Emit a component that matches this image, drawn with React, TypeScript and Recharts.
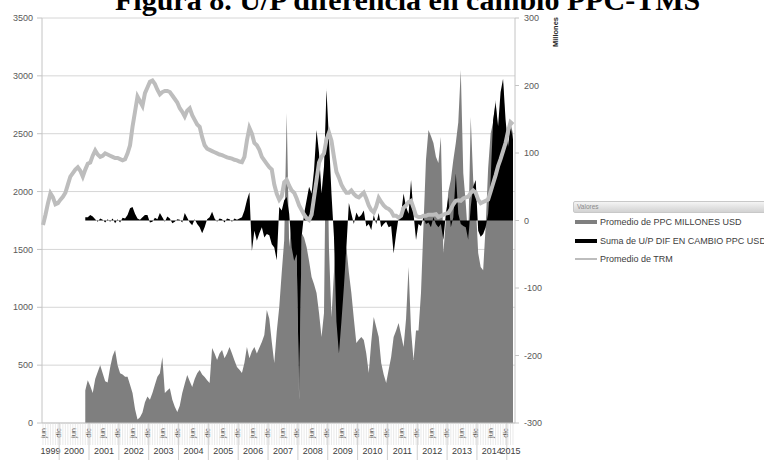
import React from 'react'
import { ComposedChart, Area, Line, XAxis, YAxis, CartesianGrid } from 'recharts'

// monthly series, jun 1999 .. mar 2015
const MONTH_NAMES = ['ene', 'feb', 'mar', 'abr', 'may', 'jun', 'jul', 'ago', 'sep', 'oct', 'nov', 'dic']
const FIRST = { year: 1999, month: 5 }
const LAST = { year: 2015, month: 2 }
const SHOWN_MONTHS = ['jun', 'dic']

// Promedio de TRM (eje izquierdo)
const TRM = [
  1711, 1800, 1900, 1985, 1950, 1890, 1900,
  1930, 1955, 1990, 2060, 2130, 2160, 2190, 2210, 2180, 2130, 2190, 2240,
  2250, 2310, 2355, 2320, 2300, 2310, 2330, 2320, 2310, 2300, 2290, 2290,
  2280, 2270, 2280, 2330, 2400, 2560, 2690, 2820, 2780, 2740, 2850, 2900,
  2950, 2960, 2930, 2880, 2840, 2860, 2870, 2870, 2860, 2830, 2800, 2770,
  2720, 2690, 2650, 2700, 2720, 2660, 2620, 2580, 2560, 2470, 2400, 2370,
  2360, 2350, 2340, 2330, 2320, 2315, 2305, 2295, 2290, 2285, 2275, 2270,
  2260, 2255, 2300, 2440, 2550, 2500, 2420, 2400, 2360, 2300, 2270, 2240,
  2210, 2190, 2060, 1980, 1930, 1960, 2080, 2100, 2050, 2010, 1990, 1940,
  1880, 1840, 1800, 1770, 1755, 1800, 1950, 2100, 2250, 2300, 2330, 2450,
  2510, 2440, 2300, 2170, 2120, 2060, 2020, 1990, 1990, 2010, 1980, 1960,
  1950, 1970, 1990, 1940, 1880, 1840, 1820, 1870, 1945, 1910, 1880, 1860,
  1850, 1830, 1790, 1790, 1775, 1790, 1860, 1880, 1910, 1920, 1860, 1790,
  1780, 1780, 1790, 1790, 1800, 1800, 1800, 1805, 1780, 1790, 1800, 1810,
  1815, 1850, 1890, 1920, 1925, 1920, 1940, 1950, 1955, 1990, 2010, 1990,
  1930, 1900, 1910, 1920, 1930, 2000, 2070, 2140, 2220, 2280, 2350, 2420,
  2520, 2600, 2580,
]

// Promedio de PPC MILLONES USD (eje izquierdo)
const PPC = [
  null, null, null, null, null, null, null,
  null, null, null, null, null, null, null, null, null, null, 280, 370,
  320, 260, 380, 440, 500, 430, 360, 350, 480, 580, 630, 500,
  430, 420, 400, 400, 330, 260, 120, 30, 50, 90, 180, 230,
  200, 260, 330, 400, 430, 570, 260, 280, 300, 200, 140, 95,
  150, 260, 340, 415, 360, 311, 380, 430, 458, 420, 398, 370,
  346, 648, 600, 544, 600, 631, 560, 600, 657, 600, 540, 484,
  460, 432, 520, 657, 560, 620, 657, 600, 650, 700, 760, 977,
  900, 700, 518, 790, 1000, 1300, 1581, 2680, 1521, 1755, 1556, 1450,
  200, 1642, 1600, 1521, 1400, 1262, 1200, 1124, 950, 743, 951, 2900,
  1500, 916, 1300, 1694, 1300, 1063, 1300, 1521, 1300, 1124, 900, 691,
  720, 743, 717, 600, 432, 700, 916, 830, 743, 518, 420, 346,
  460, 570, 743, 800, 864, 760, 657, 900, 1348, 800, 544, 800,
  800, 1124, 1700, 2273, 2532, 2480, 2420, 2300, 2247, 2472, 1469, 1755,
  2000, 2100, 2273, 2420, 2600, 3051, 2160, 1900, 1580, 2645, 2100, 1900,
  1469, 1348, 1320, 1700, 2200, 2500, 2600, 2792, 2500, 2600, 2939, 2500,
  2385, 2593, 2500,
]

// Suma de U/P DIF EN CAMBIO PPC USD, millones (eje derecho)
const UP = [
  null, null, null, null, null, null, null,
  null, null, null, null, null, null, null, null, null, null, 5, 5,
  8, 6, 2, -2, 3, 1, -3, 2, -2, 3, -4, 2,
  -3, 4, 3, 8, 18, 20, 10, 3, 1, 5, 8, 8,
  -3, -2, 4, 2, 11, 5, -2, 6, 3, -4, -2, 2,
  1, -3, 11, 4, -3, -7, 2, -5, -10, -19, -10, 2,
  5, 13, 3, -2, 3, 2, -3, 3, 2, -2, 3, 1,
  3, 5, 15, 30, 42, -45, -15, -30, -19, -10, -25, -20,
  -22, -35, -40, -59, 20, 15, 30, 35, 10, -40, -60, -50,
  -260, -24, 10, 30, 50, 40, 75, 134, 100, 40, 80, 193,
  120, 40, -24, -150, -197, -150, -98, -40, 26, 10, -5, 12,
  5, 8, 15, -9, -5, -14, 8, -5, 11, -10, -5, -2,
  -10, -8, -49, -20, 5, 10, 40, 20, 10, 60, 10, -29,
  -5, -8, 5, -5, -3, -10, 5, -5, -10, -5, -29, 10,
  35, -10, 5, 70, 10, -5, -8, -10, -29, 20, 50, 60,
  -15, -24, -20, -10, 10, 60, 149, 174, 140, 190, 210, 150,
  109, 139, 120,
]

const LEFT_TICKS = [0, 500, 1000, 1500, 2000, 2500, 3000, 3500]
const RIGHT_TICKS = [-300, -200, -100, 0, 100, 200, 300]

const W = 764
const H = 460
const PLOT_LEFT = 42
const PLOT_RIGHT = 515
const PAD_L = 1
const PAD_R = 2

type Cat = { key: string; year: number; month: number }
const categories: Cat[] = []
for (let y = FIRST.year; y <= LAST.year; y++) {
  const a = y === FIRST.year ? FIRST.month : 0
  const b = y === LAST.year ? LAST.month : 11
  for (let m = a; m <= b; m++) categories.push({ key: `${y}-${m + 1}`, year: y, month: m })
}

const data = categories.map((c, i) => ({ ...c, trm: TRM[i], ppc: PPC[i], up: UP[i] }))

const STEP = (PLOT_RIGHT - PLOT_LEFT - PAD_L - PAD_R) / (categories.length - 1)

// where to put each year label: middle of the months that year has
const yearCenter: Record<number, number> = {}
categories.forEach((c) => {
  const idx = categories.filter((d) => d.year === c.year).map((d) => categories.indexOf(d))
  yearCenter[c.year] = (idx[0] + idx[idx.length - 1]) / 2
})

const axisFont = "'Liberation Sans', Arial, sans-serif"

const MonthTick = (props: any) => {
  const { x, y, index } = props
  const c = categories[index]
  if (!c) return null
  const name = MONTH_NAMES[c.month]
  const center = yearCenter[c.year]
  const showYear = Math.floor(center) === index
  const dx = (center - Math.floor(center)) * STEP
  return (
    <g>
      <line x1={x} x2={x} y1={y} y2={y + 22} stroke="#dcdcdc" strokeWidth={0.6} />
      {c.month === 0 && (
        <line x1={x - STEP / 2} x2={x - STEP / 2} y1={y} y2={y + 37} stroke="#c4c4c4" strokeWidth={0.8} />
      )}
      {SHOWN_MONTHS.includes(name) && (
        <text
          transform={`translate(${x + 2.8},${y + 10}) rotate(-90)`}
          textAnchor="middle"
          fontSize={7.5}
          fontFamily={axisFont}
          fill="#595959"
        >
          {name}
        </text>
      )}
      {showYear && (
        <text x={x + dx} y={y + 31} textAnchor="middle" fontSize={9} fontFamily={axisFont} fill="#404040">
          {c.year}
        </text>
      )}
    </g>
  )
}

const legendItems = [
  { label: 'Promedio de PPC MILLONES USD', color: '#7f7f7f', h: 4 },
  { label: 'Suma de U/P DIF EN CAMBIO PPC USD', color: '#000000', h: 4 },
  { label: 'Promedio de TRM', color: '#bdbdbd', h: 2.5 },
]

export default function App() {
  return (
    <div style={{ position: 'fixed', left: 0, top: 0, width: W, height: H, overflow: 'hidden', background: '#fff' }}>
      <div
        style={{
          position: 'absolute',
          left: 115,
          top: -15,
          whiteSpace: 'nowrap',
          fontFamily: "'Liberation Serif', 'Times New Roman', serif",
          fontWeight: 'bold',
          fontSize: 30,
          lineHeight: '30px',
          color: '#000',
        }}
      >
        Figura 8. U/P diferencia en cambio PPC-TMS
      </div>

      <div style={{ position: 'absolute', left: 0, top: 0 }}>
        <ComposedChart width={W} height={H} data={data} margin={{ top: 18, right: 0, bottom: 0, left: 0 }}>
          <CartesianGrid yAxisId="left" vertical={false} stroke="#d6d6d6" strokeWidth={1} />
          <XAxis
            dataKey="key"
            interval={0}
            tickLine={false}
            tickSize={0}
            tickMargin={0}
            height={H - 18 - 405}
            padding={{ left: PAD_L, right: PAD_R }}
            axisLine={{ stroke: '#c4c4c4' }}
            tick={<MonthTick />}
          />
          <YAxis
            yAxisId="left"
            width={PLOT_LEFT}
            domain={[0, 3500]}
            ticks={LEFT_TICKS}
            tickSize={5}
            tickMargin={4}
            tickLine={{ stroke: '#c4c4c4' }}
            axisLine={{ stroke: '#c4c4c4' }}
            tick={{ fontSize: 9, fill: '#595959', fontFamily: axisFont }}
          />
          <YAxis
            yAxisId="right"
            orientation="right"
            width={W - PLOT_RIGHT}
            domain={[-300, 300]}
            ticks={RIGHT_TICKS}
            tickSize={4}
            tickMargin={5}
            tickLine={{ stroke: '#c4c4c4' }}
            axisLine={{ stroke: '#c4c4c4' }}
            tick={{ fontSize: 9, fill: '#595959', fontFamily: axisFont, textAnchor: 'start' }}
            label={{
              content: (p: any) => {
                const vb = p.viewBox
                return (
                  <text
                    transform={`translate(${vb.x + 43},${vb.y + 14}) rotate(-90)`}
                    textAnchor="middle"
                    fontSize={7.5}
                    fontWeight="bold"
                    fontFamily={axisFont}
                    fill="#262626"
                  >
                    Millones
                  </text>
                )
              },
            }}
          />
          <Area
            yAxisId="left"
            dataKey="ppc"
            type="linear"
            fill="#7f7f7f"
            fillOpacity={1}
            stroke="none"
            isAnimationActive={false}
          />
          <Area
            yAxisId="right"
            dataKey="up"
            type="linear"
            baseValue={0}
            fill="#000000"
            fillOpacity={1}
            stroke="none"
            isAnimationActive={false}
          />
          <Line
            yAxisId="left"
            dataKey="trm"
            type="linear"
            stroke="#bdbdbd"
            strokeWidth={4}
            dot={false}
            isAnimationActive={false}
          />
        </ComposedChart>
      </div>

      <div style={{ position: 'absolute', left: 573, top: 201, width: 200, fontFamily: axisFont }}>
        <div
          style={{
            height: 10,
            lineHeight: '10px',
            fontSize: 6.5,
            color: '#8a8a8a',
            paddingLeft: 3,
            border: '1px solid #c8c8c8',
            borderRadius: 2,
            background: 'linear-gradient(#f4f4f4, #d2d2d2)',
          }}
        >
          Valores
        </div>
        {legendItems.map((it, i) => (
          <div
            key={it.label}
            style={{
              position: 'absolute',
              left: 2,
              top: 16 + i * 18.5,
              display: 'flex',
              alignItems: 'center',
              whiteSpace: 'nowrap',
            }}
          >
            <span style={{ display: 'inline-block', width: 22, height: it.h, background: it.color, marginRight: 3 }} />
            <span style={{ fontSize: 9, color: '#404040' }}>{it.label}</span>
          </div>
        ))}
      </div>
    </div>
  )
}
